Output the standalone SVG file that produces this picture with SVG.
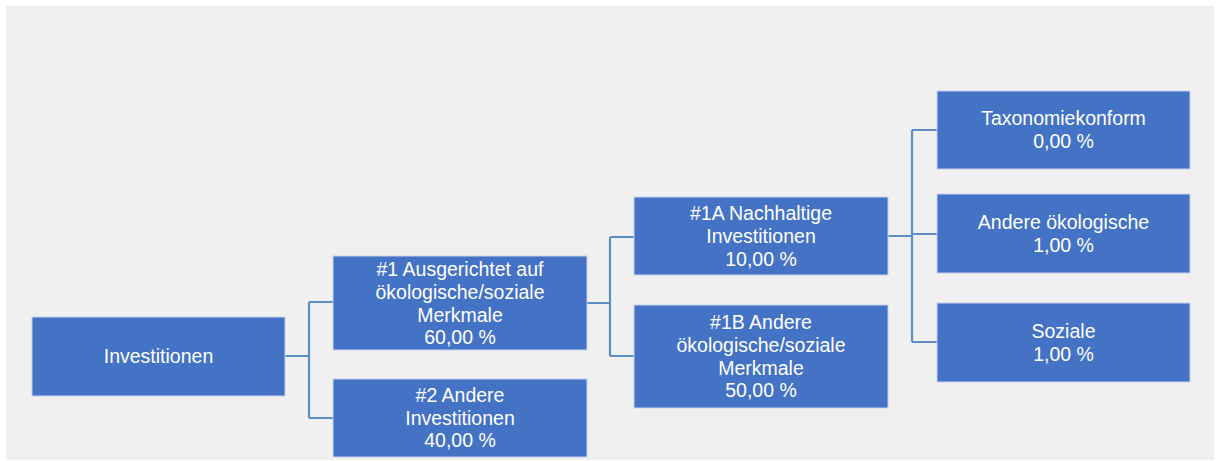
<svg xmlns="http://www.w3.org/2000/svg" width="1221" height="461" viewBox="0 0 1221 461">
<style>
.box{fill:#4472c4;stroke:#c5d3ec;stroke-width:1}
.t{font-family:"Liberation Sans",Arial,sans-serif;font-size:19.5px;fill:#ffffff;text-anchor:middle}
.c{fill:none;stroke:#5b8fc3;stroke-width:2.2}
</style>
<rect x="0" y="0" width="1221" height="461" fill="#ffffff"/>
<rect x="6" y="6" width="1208" height="454" fill="#f0f0f0"/>
<g id="connectors">
<path class="c" d="M285,356 H309 M309,302 V418 M309,302 H333 M309,418 H333"/>
<path class="c" d="M587,303 H610 M610,237 V356 M610,237 H634 M610,356 H634"/>
<path class="c" d="M888,236 H912 M912,130 V342 M912,130 H937 M912,234 H937 M912,342 H937"/>
</g>
<g id="n-invest">
<rect class="box" x="32" y="317" width="253" height="79"/>
<text class="t" x="158.5" y="363">Investitionen</text>
</g>
<g id="n-1">
<rect class="box" x="333" y="256" width="254" height="94"/>
<text class="t" x="460" y="276">#1 Ausgerichtet auf</text>
<text class="t" x="460" y="299">ökologische/soziale</text>
<text class="t" x="460" y="322">Merkmale</text>
<text class="t" x="460" y="344">60,00 %</text>
</g>
<g id="n-2">
<rect class="box" x="333" y="379" width="254" height="78"/>
<text class="t" x="460" y="402">#2 Andere</text>
<text class="t" x="460" y="425">Investitionen</text>
<text class="t" x="460" y="447">40,00 %</text>
</g>
<g id="n-1a">
<rect class="box" x="634" y="197" width="254" height="78"/>
<text class="t" x="761" y="220">#1A Nachhaltige</text>
<text class="t" x="761" y="243">Investitionen</text>
<text class="t" x="761" y="266">10,00 %</text>
</g>
<g id="n-1b">
<rect class="box" x="634" y="305" width="254" height="103"/>
<text class="t" x="761" y="329">#1B Andere</text>
<text class="t" x="761" y="352">ökologische/soziale</text>
<text class="t" x="761" y="375">Merkmale</text>
<text class="t" x="761" y="397">50,00 %</text>
</g>
<g id="n-tax">
<rect class="box" x="937" y="91" width="253" height="78"/>
<text class="t" x="1063.5" y="125">Taxonomiekonform</text>
<text class="t" x="1063.5" y="148">0,00 %</text>
</g>
<g id="n-oeko">
<rect class="box" x="937" y="194" width="253" height="79"/>
<text class="t" x="1063.5" y="229">Andere ökologische</text>
<text class="t" x="1063.5" y="252">1,00 %</text>
</g>
<g id="n-soz">
<rect class="box" x="937" y="303" width="253" height="79"/>
<text class="t" x="1063.5" y="338">Soziale</text>
<text class="t" x="1063.5" y="361">1,00 %</text>
</g>
</svg>
